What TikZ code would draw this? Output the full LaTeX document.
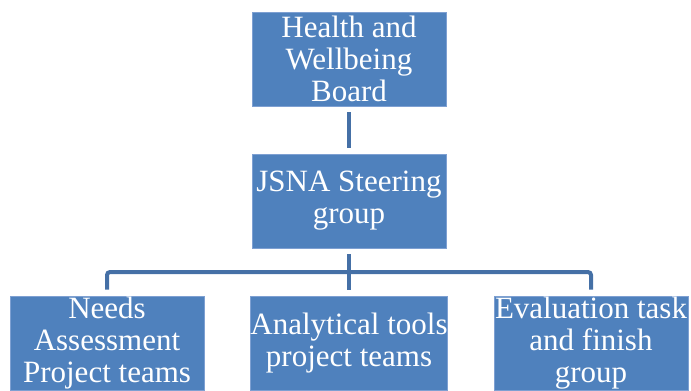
\documentclass[tikz,border=0pt]{standalone}
\usepackage{fontspec}
\setmainfont{Liberation Serif}
\definecolor{boxblue}{HTML}{4F81BD}
\definecolor{boxedge}{HTML}{7EA0D2}
\definecolor{linkblue}{HTML}{4570A6}
\begin{document}
\begin{tikzpicture}[x=1pt, y=-1pt,
  team/.style={rectangle, fill=boxblue, draw=boxedge, line width=0.8pt, minimum width=194pt, minimum height=94pt, inner sep=0pt, align=center, text=white, font=\fontsize{31}{32}\selectfont},
  link/.style={draw=linkblue, line width=4pt, rounded corners=3pt, shorten <=6pt, shorten >=6pt}]
\useasboundingbox (0,0) rectangle (691,391);

\node[team] (hwb) at (349,59){Health and\\Wellbeing\\Board};
\node[team] (jsna) at (349,201){JSNA Steering\\group};

\node[team] (needs) at (107,343){Needs\\Assessment\\Project teams};
\node[team] (tools) at (349,343){Analytical tools\\project teams};
\node[team] (eval) at (591,343){Evaluation task\\and finish\\group};

\coordinate (bus) at (349,272);

\draw[link](hwb) -- (jsna);
\draw[link](jsna) -- (tools);
\draw[link](needs.north) |- (bus) -| (eval.north);

\end{tikzpicture}
\end{document}
